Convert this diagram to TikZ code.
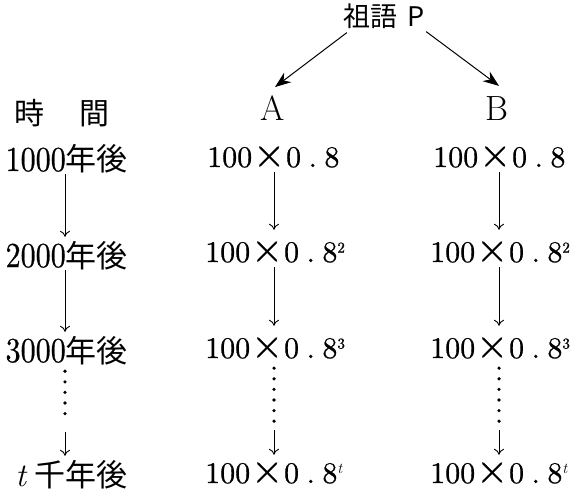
\documentclass[tikz,border=0pt]{standalone}
\usepackage{fontspec}
\usepackage{graphicx}
\newfontfamily\jp{Noto Sans CJK JP}
\newfontfamily\narrowrm{lmroman10-regular.otf}[FakeStretch=0.86,FakeBold=0.6]
\newfontfamily\numrm{lmroman10-regular.otf}[FakeBold=0.6]
\usetikzlibrary{arrows.meta}
\newcommand{\pw}[1]{\raisebox{9.5pt}{\fontsize{15}{18}\selectfont #1}}
\newcommand{\tim}{\hspace{0.02em}\scalebox{1.4}{×}\hspace{0.02em}}
\newcommand{\val}[1]{100\tim 0\hspace{0.25em}.\hspace{0.25em}8#1}
\tikzset{
  num/.style={anchor=base west, inner sep=0pt, text height=32pt, text depth=5pt,
              font=\numrm\fontsize{30}{36}\selectfont},
  lab/.style={anchor=base east, inner sep=0pt, text height=30pt, text depth=3pt,
              font=\narrowrm\fontsize{35}{40}\selectfont},
  head/.style={inner sep=0pt, font=\fontsize{35}{40}\selectfont},
  varrow/.style={line width=0.9pt, -{Computer Modern Rightarrow[length=6pt,width=10pt]}},
  darrow/.style={line width=1pt, -{Stealth[length=16pt,width=12pt]}},
  dotline/.style={line width=3.6pt, line cap=round, dash pattern=on 0pt off 10.6pt},
}
\begin{document}
\begin{tikzpicture}[x=1pt,y=-1pt]
\useasboundingbox (0,0) rectangle (578,497);
% column coordinates
\coordinate (xL) at (65,0);
\coordinate (xA) at (274,0);
\coordinate (xB) at (499,0);
% top
\node[inner sep=0pt, font=\jp\fontsize{27}{32}\selectfont] (P) at (384,16) {祖語\hspace{0.4em}P};
\node[head, anchor=base] (A) at (273,121) {A};
\node[head, anchor=base] (B) at (497,121) {B};
\draw[darrow] ([shift={(4,4)}]P.south west) -- ([shift={(2,-9)}]A.north);
\draw[darrow] ([shift={(1,3)}]P.south east) -- ([shift={(2,-11)}]B.north);
% time column
\node[inner sep=0pt, font=\jp\fontsize{30}{36}\selectfont] (T) at (62,113) {時\hspace{1.15em}間};
\node[lab] (l1) at (128,171) {1000{\jp\fontsize{31}{36}\selectfont 年後}};
\node[lab] (l2) at (128,267) {2000{\jp\fontsize{31}{36}\selectfont 年後}};
\node[lab] (l3) at (128,362) {3000{\jp\fontsize{31}{36}\selectfont 年後}};
\node[lab] (l4) at (128,486) {{\normalfont\itshape\fontsize{33}{40}\selectfont t}\hspace{0.25em}{\jp\fontsize{31}{36}\selectfont 千年後}};
% A column
\node[num] (a1) at (207,167) {\val{}};
\node[num] (a2) at (205,262) {\val{\pw{2}}};
\node[num] (a3) at (205,358) {\val{\pw{3}}};
\node[num] (a4) at (205,483) {\val{\pw{\normalfont\itshape t}}};
% B column
\node[num] (b1) at (433,167) {\val{}};
\node[num] (b2) at (430,262) {\val{\pw{2}}};
\node[num] (b3) at (430,358) {\val{\pw{3}}};
\node[num] (b4) at (430,483) {\val{\pw{\normalfont\itshape t}}};
% arrows: time
\draw[varrow] (l1.south -| xL) -- (l2.north -| xL);
\draw[varrow] (l2.south -| xL) -- (l3.north -| xL);
\draw[dotline, shorten <=6pt, shorten >=32pt] (l3.south -| xL) -- (l4.north -| xL);
\draw[varrow, shorten <=67pt] (l3.south -| xL) -- (l4.north -| xL);
% arrows: A
\draw[varrow] (a1.south -| xA) -- (a2.north -| xA);
\draw[varrow] (a2.south -| xA) -- (a3.north -| xA);
\draw[dotline, shorten <=5pt, shorten >=28pt] (a3.south -| xA) -- (a4.north -| xA);
\draw[varrow, shorten <=67pt, shorten >=-4pt] (a3.south -| xA) -- (a4.north -| xA);
% arrows: B
\draw[varrow] (b1.south -| xB) -- (b2.north -| xB);
\draw[varrow] (b2.south -| xB) -- (b3.north -| xB);
\draw[dotline, shorten <=5pt, shorten >=28pt] (b3.south -| xB) -- (b4.north -| xB);
\draw[varrow, shorten <=67pt, shorten >=-4pt] (b3.south -| xB) -- (b4.north -| xB);
\end{tikzpicture}
\end{document}
